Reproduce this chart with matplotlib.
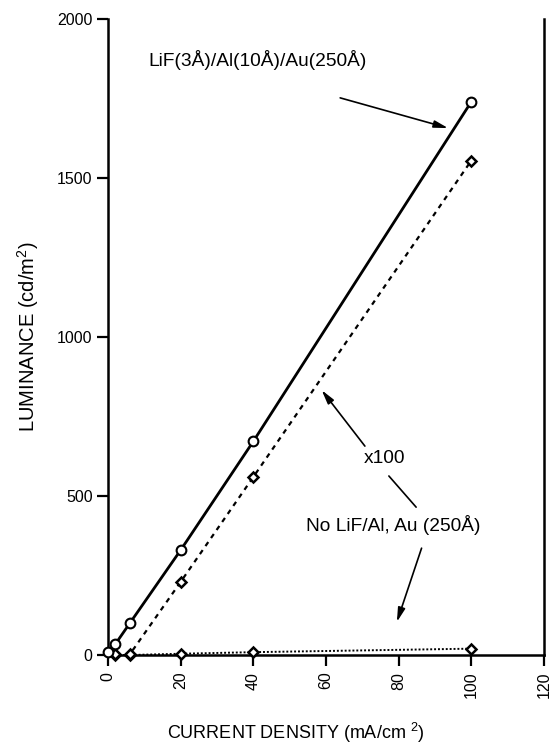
import matplotlib
matplotlib.use("Agg")
import matplotlib.pyplot as plt

plt.rcParams.update({"font.family": ["Liberation Sans", "DejaVu Sans"], "font.size": 12,
                     "mathtext.fontset": "custom", "mathtext.rm": "Liberation Sans",
                     "mathtext.it": "Liberation Sans", "mathtext.default": "regular"})

# LiF(3A)/Al(10A)/Au(250A) cathode
lif_x = [0, 2, 6, 20, 40, 100]
lif_y = [8, 34, 100, 330, 672, 1740]
# Au-only cathode, luminance multiplied by 100
au100_x = [2, 6, 20, 40, 100]
au100_y = [4, 2, 230, 560, 1555]
# Au-only cathode, raw luminance
au_x = [2, 6, 20, 40, 100]
au_y = [0, 0, 4, 9, 20]

xticks = [0, 20, 40, 60, 80, 100, 120]
yticks = [0, 500, 1000, 1500, 2000]

fig = plt.figure(figsize=(5.57, 7.48), dpi=100)
ax = fig.add_axes([0.1939, 0.1243, 0.7828, 0.8503])

ax.plot(au_x, au_y, color="k", lw=1.4, ls=(0, (1, 1)), marker="D", ms=5,
        mfc="white", mec="k", mew=1.8, zorder=3, clip_on=False)
ax.plot(au100_x, au100_y, color="k", lw=1.6, ls=(0, (2.2, 2.2)), marker="D", ms=5,
        mfc="white", mec="k", mew=1.8, zorder=3, clip_on=False)
ax.plot(lif_x, lif_y, color="k", lw=2.0, marker="o", ms=7,
        mfc="white", mec="k", mew=1.5, zorder=4, clip_on=False)

ax.set_xlim(0, 120)
ax.set_ylim(0, 2000)
ax.set_xticks(xticks)
ax.set_yticks(yticks)
ax.set_xticklabels([str(t) for t in xticks], rotation=90)
ax.spines["top"].set_visible(False)
for s in ("left", "bottom", "right"):
    ax.spines[s].set_linewidth(1.8)
ax.tick_params(direction="out", length=8, width=1.6, labelsize=11.5, pad=3)
ax.tick_params(axis="x", pad=4)

ax.set_xlabel("CURRENT DENSITY (mA/cm $^{2}$)", fontsize=13, labelpad=16, x=0.43)
ax.set_ylabel("LUMINANCE (cd/m$^{2}$)", fontsize=14.5, labelpad=12)

arrow = dict(arrowstyle="-|>,head_length=0.7,head_width=0.18", color="k", lw=1.2,
             shrinkA=0, shrinkB=0)
ax.text(11, 1871, "LiF(3Å)/Al(10Å)/Au(250Å)", ha="left", va="center", fontsize=13.8)
ax.annotate("", xy=(93.6, 1657), xytext=(63.9, 1752), arrowprops=arrow)
ax.text(76.2, 619, "x100", ha="center", va="center", fontsize=13.8)
ax.annotate("", xy=(58.8, 833), xytext=(70.7, 657), arrowprops=arrow)
ax.annotate("", xy=(84.8, 465), xytext=(77.3, 563),
            arrowprops=dict(arrowstyle="-", color="k", lw=1.2, shrinkA=0, shrinkB=0))
ax.text(78.4, 409, "No LiF/Al, Au (250Å)", ha="center", va="center", fontsize=13.8)
ax.annotate("", xy=(79.5, 104), xytext=(86.3, 336), arrowprops=arrow)

fig.savefig("out.png", dpi=100)
